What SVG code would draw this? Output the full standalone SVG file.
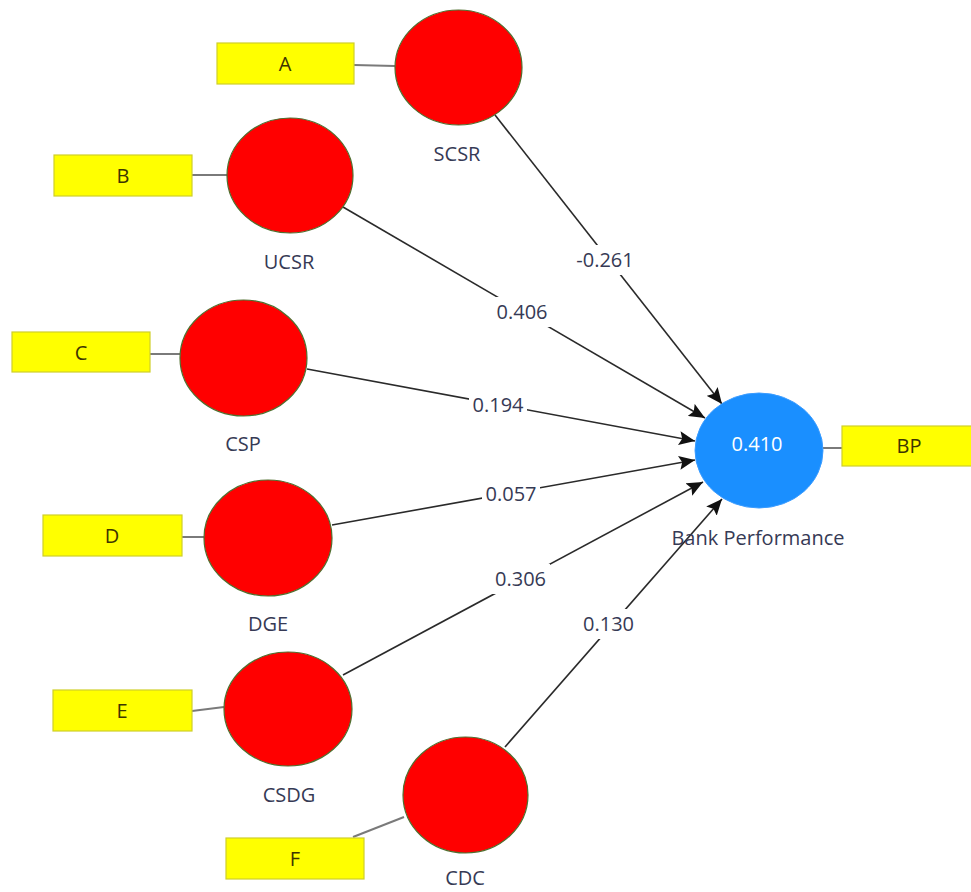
<svg xmlns="http://www.w3.org/2000/svg" width="971" height="892" viewBox="0 0 971 892">
<style>
  .bg{fill:#ffffff}
  .lv{fill:#ff0000;stroke:#4f6f2f;stroke-width:1.2}
  .bpc{fill:#1a8fff;stroke:#3b9cff;stroke-width:1}
  .ind{fill:#ffff00;stroke:#cfcf2a;stroke-width:1.2}
  .ln{stroke:#7a7a7a;stroke-width:2;fill:none}
  .path{stroke:#2a2a2a;stroke-width:1.6;fill:none;marker-end:url(#arr)}
  .t{font-family:"Open Sans","Liberation Sans",sans-serif;font-size:20px;text-anchor:middle;fill:#363a55}
  .bt{font-family:"Open Sans","Liberation Sans",sans-serif;font-size:20px;text-anchor:middle;fill:#3d3500}
  .wt{font-family:"Open Sans","Liberation Sans",sans-serif;font-size:20px;text-anchor:middle;fill:#ffffff}
  .lb{fill:#ffffff}
</style>
<defs>
  <marker id="arr" markerUnits="userSpaceOnUse" markerWidth="17" markerHeight="14" refX="16" refY="7" orient="auto">
    <path d="M0,0 L16,7 L0,14 L3,7 z" fill="#111111"/>
  </marker>
</defs>
<rect class="bg" x="0" y="0" width="971" height="892"/>

<g id="connectors">
  <line class="ln" x1="354" y1="65" x2="395" y2="66"/>
  <line class="ln" x1="192" y1="175" x2="227" y2="175"/>
  <line class="ln" x1="150" y1="354" x2="180" y2="354"/>
  <line class="ln" x1="182" y1="537" x2="204" y2="537"/>
  <line class="ln" x1="192" y1="711" x2="224" y2="707"/>
  <line class="ln" x1="353" y1="837" x2="404" y2="817"/>
  <line class="ln" x1="823" y1="448" x2="842" y2="448"/>

  <line class="path" x1="495" y1="115" x2="722" y2="404"/>
  <line class="path" x1="343" y1="207" x2="705" y2="418"/>
  <line class="path" x1="307" y1="369" x2="695" y2="441"/>
  <line class="path" x1="332" y1="525" x2="695" y2="460"/>
  <line class="path" x1="343" y1="675" x2="703" y2="482"/>
  <line class="path" x1="505" y1="747" x2="722" y2="499"/>

  <rect class="lb" x="573" y="245" width="64" height="30"/>
  <text class="t" x="605" y="267">-0.261</text>
  <rect class="lb" x="493" y="297" width="58" height="30"/>
  <text class="t" x="522" y="319">0.406</text>
  <rect class="lb" x="469" y="390" width="58" height="30"/>
  <text class="t" x="498" y="412">0.194</text>
  <rect class="lb" x="482" y="479" width="58" height="30"/>
  <text class="t" x="511" y="501">0.057</text>
  <rect class="lb" x="491" y="564" width="59" height="30"/>
  <text class="t" x="520.5" y="586">0.306</text>
  <rect class="lb" x="579" y="609" width="59" height="30"/>
  <text class="t" x="608.5" y="631">0.130</text>
</g>

<g id="A"><rect class="ind" x="217" y="43" width="137" height="41"/><text class="bt" x="285" y="71">A</text></g>
<g id="B"><rect class="ind" x="54" y="155" width="138" height="41"/><text class="bt" x="123" y="183">B</text></g>
<g id="C"><rect class="ind" x="12" y="332" width="138" height="40"/><text class="bt" x="81" y="360">C</text></g>
<g id="D"><rect class="ind" x="43" y="515" width="139" height="41"/><text class="bt" x="112" y="543">D</text></g>
<g id="E"><rect class="ind" x="53" y="690" width="139" height="41"/><text class="bt" x="122" y="718">E</text></g>
<g id="F"><rect class="ind" x="226" y="838" width="138" height="41"/><text class="bt" x="295" y="866">F</text></g>
<g id="BP"><rect class="ind" x="842" y="426" width="135" height="40"/><text class="bt" x="909" y="453">BP</text></g>

<g id="SCSR"><ellipse class="lv" cx="458.5" cy="67.5" rx="63.5" ry="57.5"/><text class="t" x="457" y="161">SCSR</text></g>
<g id="UCSR"><ellipse class="lv" cx="290" cy="175.5" rx="63" ry="57.5"/><text class="t" x="289" y="269">UCSR</text></g>
<g id="CSP"><ellipse class="lv" cx="243.5" cy="358" rx="63.5" ry="58"/><text class="t" x="243" y="451">CSP</text></g>
<g id="DGE"><ellipse class="lv" cx="268" cy="538" rx="64" ry="58"/><text class="t" x="268" y="631">DGE</text></g>
<g id="CSDG"><ellipse class="lv" cx="288" cy="709" rx="64" ry="57"/><text class="t" x="289" y="802">CSDG</text></g>
<g id="CDC"><ellipse class="lv" cx="465.5" cy="795" rx="62.5" ry="58"/><text class="t" x="465" y="885">CDC</text></g>
<g id="BankPerformance"><ellipse class="bpc" cx="759" cy="450.5" rx="64" ry="57.5"/><text class="wt" x="757" y="451">0.410</text><text class="t" x="758" y="545">Bank Performance</text></g>
</svg>
